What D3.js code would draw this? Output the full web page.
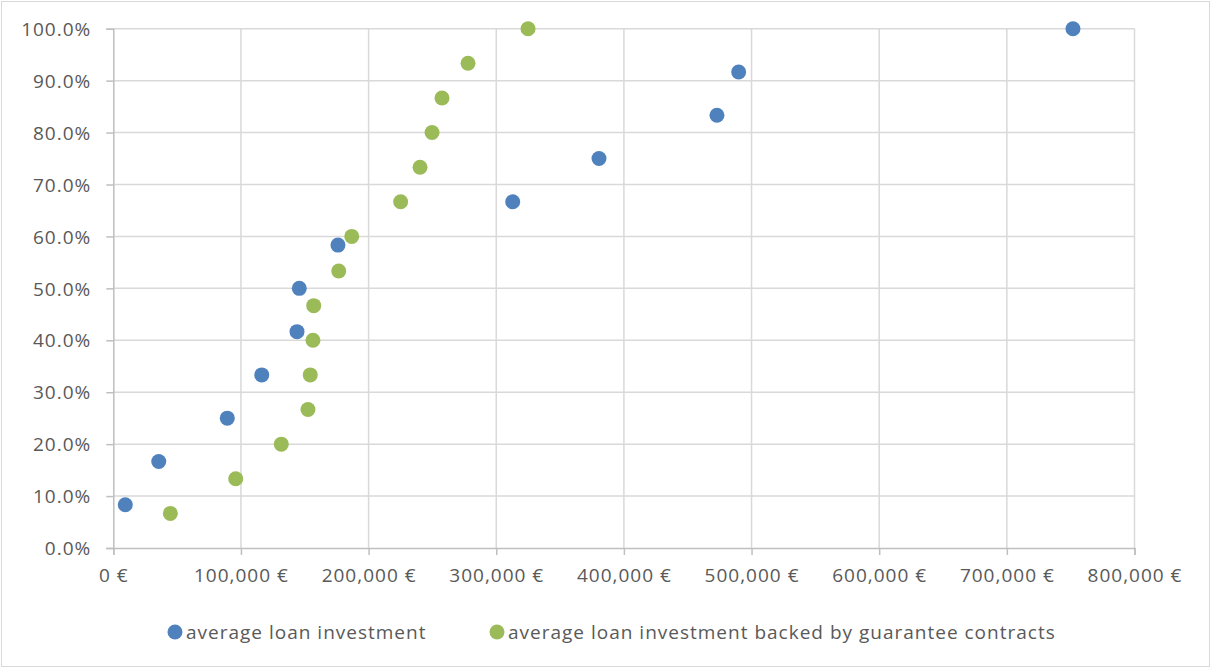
<!DOCTYPE html>
<html><head><meta charset="utf-8">
<script src="https://cdn.jsdelivr.net/npm/d3@7"></script>
<style>
html,body{margin:0;padding:0;background:#fff;}
svg{display:block;}
text{font-family:"Open Sans","Noto Sans",sans-serif;fill:#595959;letter-spacing:1px;}
</style></head>
<body>
<svg id="chart" width="1212" height="669"></svg>
<script>
const seriesNames = ["average loan investment", "average loan investment backed by guarantee contracts"];
const blueX = [9400, 35600, 89300, 116300, 143900, 145700, 176000, 312900, 380500, 472900, 489900, 751800];
const blueY = [1/12, 2/12, 3/12, 4/12, 5/12, 6/12, 7/12, 8/12, 9/12, 10/12, 11/12, 12/12];
const greenX = [44700, 95900, 131600, 152500, 154300, 156400, 157000, 176600, 186800, 225100, 240300, 249700, 257500, 277900, 324900];
const greenY = [1/15, 2/15, 3/15, 4/15, 5/15, 6/15, 7/15, 8/15, 9/15, 10/15, 11/15, 12/15, 13/15, 14/15, 15/15];
const xTicks = [0, 100000, 200000, 300000, 400000, 500000, 600000, 700000, 800000];
const yTicks = [0, 0.1, 0.2, 0.3, 0.4, 0.5, 0.6, 0.7, 0.8, 0.9, 1.0];
const colors = ["#4f81bd", "#9bbb59"];

const svg = d3.select("#chart");
svg.append("rect").attr("x",1.5).attr("y",1.5).attr("width",1208).attr("height",665)
  .attr("fill","#fff").attr("stroke","#d9d9d9").attr("stroke-width",1);

const L = 113.3, R = 1134.5, T = 28.7, B = 548;
const x = d3.scaleLinear().domain([0, 800000]).range([L, R]);
const y = d3.scaleLinear().domain([0, 1]).range([B, T]);

const fmtX = v => d3.format(",")(v) + " €";
const fmtY = d3.format(".1%");

// gridlines
svg.append("g").selectAll("line").data(yTicks.slice(1)).join("line")
  .attr("x1", L).attr("x2", R).attr("y1", d=>y(d)).attr("y2", d=>y(d))
  .attr("stroke","#d9d9d9").attr("stroke-width",1.5);
svg.append("g").selectAll("line").data(xTicks.slice(1)).join("line")
  .attr("y1", T).attr("y2", B).attr("x1", d=>x(d)).attr("x2", d=>x(d))
  .attr("stroke","#d9d9d9").attr("stroke-width",1.5);

// axes
const xAxis = svg.append("g").attr("transform",`translate(0,${B})`)
  .call(d3.axisBottom(x).tickValues(xTicks).tickFormat(fmtX).tickSize(7).tickPadding(14));
const yAxis = svg.append("g").attr("transform",`translate(${L},0)`)
  .call(d3.axisLeft(y).tickValues(yTicks).tickFormat(fmtY).tickSize(7).tickPadding(15));
[xAxis, yAxis].forEach(a => {
  a.select(".domain").attr("stroke","#bfbfbf").attr("stroke-width",1.5);
  a.selectAll(".tick line").attr("stroke","#bfbfbf").attr("stroke-width",1.5);
  a.selectAll("text").attr("font-size",19).attr("font-family",'"Open Sans","Noto Sans",sans-serif').attr("fill","#595959");
});
yAxis.selectAll("text").attr("dy","0.35em");

// points
const blue = blueX.map((v,i)=>({x:v, y:blueY[i]}));
const green = greenX.map((v,i)=>({x:v, y:greenY[i]}));
svg.append("g").selectAll("circle").data(blue).join("circle")
  .attr("cx", d=>x(d.x)).attr("cy", d=>y(d.y)).attr("r",7.5).attr("fill",colors[0]);
svg.append("g").selectAll("circle").data(green).join("circle")
  .attr("cx", d=>x(d.x)).attr("cy", d=>y(d.y)).attr("r",7.5).attr("fill",colors[1]);

// legend
const legendX = [175, 497];
const lg = svg.append("g");
seriesNames.forEach((n,i)=>{
  lg.append("circle").attr("cx",legendX[i]).attr("cy",632).attr("r",7.5).attr("fill",colors[i]);
  lg.append("text").attr("x",legendX[i]+11).attr("y",632).attr("dy","0.35em")
    .attr("font-size",19).text(n);
});
</script>
</body></html>
